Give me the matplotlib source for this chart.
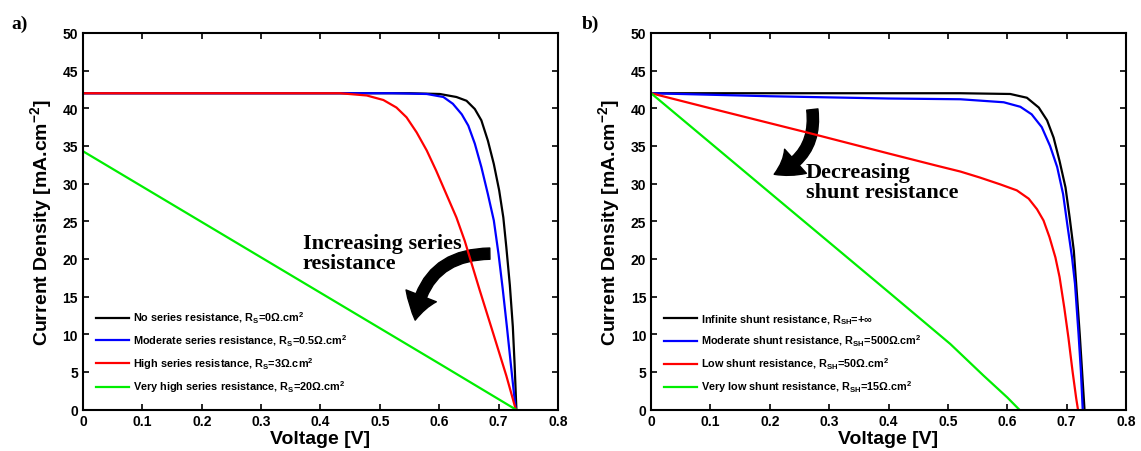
import numpy as np
import matplotlib
matplotlib.use("Agg")
import matplotlib.pyplot as plt
from matplotlib.patches import FancyArrowPatch
from matplotlib.ticker import FormatStrFormatter

plt.rcParams['font.family'] = ['Liberation Sans', 'DejaVu Sans']
plt.rcParams['font.weight'] = 'bold'
plt.rcParams['mathtext.fontset'] = 'custom'
plt.rcParams['mathtext.rm'] = 'Liberation Sans:bold'
plt.rcParams['mathtext.it'] = 'Liberation Sans:bold'
plt.rcParams['mathtext.bf'] = 'Liberation Sans:bold'
plt.rcParams['mathtext.default'] = 'rm'

# ---- panel a) series resistance (read from picture)
a_black_v = [0, 0.2, 0.4, 0.55, 0.601, 0.629, 0.646, 0.660, 0.671, 0.682, 0.692, 0.701, 0.708, 0.713, 0.719, 0.724, 0.727, 0.730]
a_black_j = [42, 42, 42, 42, 41.9, 41.5, 41.0, 39.9, 38.4, 35.7, 32.6, 29.1, 25.5, 21.6, 16.5, 11.0, 6.0, 0]
a_blue_v = [0, 0.2, 0.4, 0.52, 0.579, 0.607, 0.623, 0.638, 0.649, 0.660, 0.671, 0.682, 0.692, 0.700, 0.707, 0.714, 0.720, 0.725, 0.729]
a_blue_j = [42, 42, 42, 42, 41.9, 41.5, 40.6, 39.2, 37.7, 35.3, 32.2, 28.6, 25.1, 20.6, 16.0, 11.0, 6.5, 2.8, 0]
a_red_v = [0, 0.2, 0.433, 0.478, 0.506, 0.528, 0.545, 0.562, 0.579, 0.595, 0.612, 0.629, 0.643, 0.668, 0.691, 0.713, 0.729]
a_red_j = [42, 42, 42.0, 41.7, 41.1, 40.1, 38.8, 36.8, 34.4, 31.7, 28.6, 25.5, 22.4, 15.9, 10.1, 4.5, 0]
a_green_v = [0, 0.2, 0.4, 0.6, 0.729]
a_green_j = [34.3, 24.9, 15.5, 6.1, 0]
a_labels = [r'No series resistance, R$_\mathrm{S}$=0Ω.cm$^\mathrm{2}$',
            r'Moderate series resistance, R$_\mathrm{S}$=0.5Ω.cm$^\mathrm{2}$',
            r'High series resistance, R$_\mathrm{S}$=3Ω.cm$^\mathrm{2}$',
            r'Very high series resistance, R$_\mathrm{S}$=20Ω.cm$^\mathrm{2}$']

# ---- panel b) shunt resistance
b_black_v = [0, 0.2, 0.4, 0.521, 0.605, 0.633, 0.653, 0.667, 0.678, 0.688, 0.698, 0.705, 0.712, 0.716, 0.722, 0.726, 0.730]
b_black_j = [42, 42, 42, 42, 41.9, 41.4, 40.1, 38.4, 36.1, 33.0, 29.5, 25.5, 21.1, 16.7, 10.0, 5.0, 0]
b_blue_v = [0, 0.2, 0.4, 0.521, 0.594, 0.622, 0.641, 0.658, 0.672, 0.684, 0.694, 0.701, 0.709, 0.714, 0.720, 0.724, 0.727]
b_blue_j = [42, 41.6, 41.3, 41.2, 40.8, 40.2, 39.2, 37.5, 35.0, 32.2, 28.6, 24.6, 20.2, 16.7, 10.0, 5.0, 0]
b_red_v = [0, 0.1, 0.262, 0.4, 0.48, 0.521, 0.554, 0.588, 0.616, 0.636, 0.650, 0.661, 0.671, 0.681, 0.688, 0.696, 0.703, 0.710, 0.716, 0.719]
b_red_j = [42, 40.0, 36.8, 34.0, 32.4, 31.6, 30.8, 29.9, 29.1, 28.0, 26.6, 25.1, 22.9, 20.2, 17.6, 13.5, 9.5, 5.0, 1.5, 0]
b_green_v = [0, 0.1, 0.212, 0.3, 0.4, 0.504, 0.56, 0.6, 0.62]
b_green_j = [42, 35.4, 28.0, 22.2, 15.6, 8.7, 4.5, 1.6, 0]
b_labels = [r'Infinite shunt resistance, R$_\mathrm{SH}$=+∞',
            r'Moderate shunt resistance, R$_\mathrm{SH}$=500Ω.cm$^\mathrm{2}$',
            r'Low shunt resistance, R$_\mathrm{SH}$=50Ω.cm$^\mathrm{2}$',
            r'Very low shunt resistance, R$_\mathrm{SH}$=15Ω.cm$^\mathrm{2}$']

colors = ['black', 'blue', 'red', '#00ee00']

fig = plt.figure(figsize=(11.41, 4.52), dpi=100)
ax1 = fig.add_axes([0.0727, 0.0918, 0.4163, 0.833])
ax2 = fig.add_axes([0.5706, 0.0918, 0.4163, 0.833])

panels = [
    (ax1, [(a_black_v, a_black_j), (a_blue_v, a_blue_j), (a_red_v, a_red_j), (a_green_v, a_green_j)], a_labels),
    (ax2, [(b_black_v, b_black_j), (b_blue_v, b_blue_j), (b_red_v, b_red_j), (b_green_v, b_green_j)], b_labels),
]

for ax, curves, labels in panels:
    for (v, j), c, lab in zip(curves, colors, labels):
        ax.plot(v, j, color=c, lw=1.6, label=lab, solid_joinstyle='round')
    ax.set_xlim(0, 0.8)
    ax.set_ylim(0, 50)
    ax.set_xticks(np.arange(0, 0.81, 0.1))
    ax.set_yticks(np.arange(0, 51, 5))
    ax.xaxis.set_major_formatter(FormatStrFormatter('%g'))
    ax.tick_params(direction='in', top=True, right=True, labelsize=10, width=1.2, length=4)
    for sp in ax.spines.values():
        sp.set_linewidth(1.5)
    ax.set_xlabel('Voltage [V]', fontsize=14, fontweight='bold', labelpad=1)
    ax.set_ylabel(r'Current Density [mA.cm$^\mathrm{-2}$]', fontsize=14, fontweight='bold', labelpad=6)
    ax.legend(loc='lower left', frameon=False, fontsize=7.8, handlelength=3.0,
              labelspacing=0.68, borderaxespad=0.3, handletextpad=0.4,
              bbox_to_anchor=(0.012, 0.02))

# annotations
ax1.text(0.370, 23.5, 'Increasing series\nresistance', family='Liberation Serif',
         fontsize=16, fontweight='bold', va='top', ha='left', linespacing=1.05)
ax1.add_patch(FancyArrowPatch((0.690, 20.7), (0.559, 11.5), connectionstyle='arc3,rad=0.45',
                              arrowstyle='simple,head_width=2.6,head_length=2.0,tail_width=0.9',
                              mutation_scale=9, color='black'))
ax2.text(0.261, 32.9, 'Decreasing\nshunt resistance', family='Liberation Serif',
         fontsize=16, fontweight='bold', va='top', ha='left', linespacing=1.0)
ax2.add_patch(FancyArrowPatch((0.271, 40.2), (0.203, 31.1), connectionstyle='arc3,rad=-0.4',
                              arrowstyle='simple,head_width=2.6,head_length=2.0,tail_width=0.9',
                              mutation_scale=9, color='black'))

fig.text(0.010, 0.937, 'a)', family='Liberation Serif', fontsize=14, fontweight='bold')
fig.text(0.510, 0.937, 'b)', family='Liberation Serif', fontsize=14, fontweight='bold')

fig.savefig('out.png', dpi=100)
